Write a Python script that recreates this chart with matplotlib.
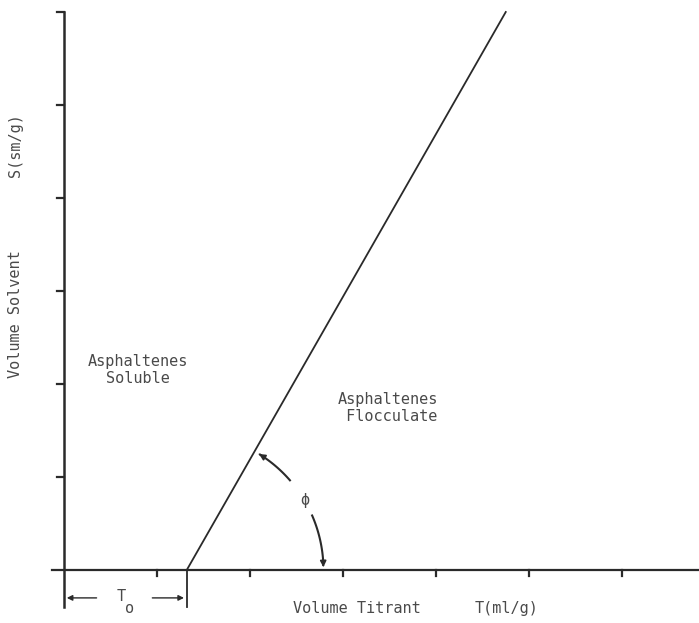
import numpy as np
import matplotlib
matplotlib.use("Agg")
import matplotlib.pyplot as plt

# ---- data ----
x_ticks = [1, 2, 3, 4, 5, 6]
y_ticks = [1, 2, 3, 4, 5, 6]
T0 = 1.32
line_x = [T0, 4.75]
line_y = [0.0, 6.0]

FONT = "DejaVu Sans Mono"
INK = "#2a2a2a"
TXT = "#4a4a4a"
FS = 11

W, H, DPI = 699, 623, 100
unit = 93.0
ox, oy = 64.0, 570.0
fig = plt.figure(figsize=(W / DPI, H / DPI), dpi=DPI)
ax = fig.add_axes([0, 0, 1, 1])
ax.set_xlim(-ox / unit, (W - ox) / unit)
ax.set_ylim(-(H - oy) / unit, oy / unit)
ax.axis("off")

# axes
ax.plot([-0.13, 7.0], [0, 0], color=INK, lw=1.6)
ax.plot([0, 0], [-0.40, 6.0], color=INK, lw=1.8)
for t in x_ticks:
    ax.plot([t, t], [0, -0.06], color=INK, lw=1.6)
for t in y_ticks:
    ax.plot([-0.07, 0], [t, t], color=INK, lw=1.6)

# main line
ax.plot(line_x, line_y, color=INK, lw=1.3)

# T0 dimension
ax.plot([T0, T0], [0, -0.40], color=INK, lw=1.3)
ax.annotate("", xy=(0.0, -0.30), xytext=(0.38, -0.30),
            arrowprops=dict(arrowstyle="-|>", color=INK, lw=1.0, mutation_scale=8))
ax.annotate("", xy=(T0, -0.30), xytext=(0.92, -0.30),
            arrowprops=dict(arrowstyle="-|>", color=INK, lw=1.0, mutation_scale=8))
ax.text(0.61, -0.29, "T", fontsize=FS, family=FONT, color=TXT, ha="center", va="center")
ax.text(0.70, -0.41, "o", fontsize=FS, family=FONT, color=TXT, ha="center", va="center")

# phi arc
ang_line = np.degrees(np.arctan2(line_y[1] - line_y[0], line_x[1] - line_x[0]))
r = 1.47
a1 = np.radians(np.linspace(ang_line - 1, 41, 30))
ax.plot(T0 + r * np.cos(a1[3:]), r * np.sin(a1[3:]), color=INK, lw=1.5)
ax.annotate("", xy=(T0 + r * np.cos(a1[0]), r * np.sin(a1[0])),
            xytext=(T0 + r * np.cos(a1[4]), r * np.sin(a1[4])),
            arrowprops=dict(arrowstyle="-|>", color=INK, lw=1.2, mutation_scale=9))
a2 = np.radians(np.linspace(23.5, 0, 30))
ax.plot(T0 + r * np.cos(a2[:-4]), r * np.sin(a2[:-4]), color=INK, lw=1.5)
ax.annotate("", xy=(T0 + r * np.cos(a2[-1]), r * np.sin(a2[-1])),
            xytext=(T0 + r * np.cos(a2[-5]), r * np.sin(a2[-5])),
            arrowprops=dict(arrowstyle="-|>", color=INK, lw=1.2, mutation_scale=9))
ax.text(T0 + r * np.cos(np.radians(30.5)), r * np.sin(np.radians(30.5)), "\u03d5",
        fontsize=FS, family=FONT, color=TXT, ha="center", va="center")

# labels
ax.text(-0.52, 4.57, "S(sm/g)", rotation=90, fontsize=FS, family=FONT, color=TXT,
        ha="center", va="center")
ax.text(-0.52, 2.75, "Volume Solvent", rotation=90, fontsize=FS, family=FONT, color=TXT,
        ha="center", va="center")
ax.text(0.79, 2.15, "Asphaltenes\nSoluble", fontsize=FS, family=FONT, color=TXT,
        ha="center", va="center", linespacing=1.15)
ax.text(3.48, 1.74, "Asphaltenes\n Flocculate", fontsize=FS, family=FONT, color=TXT,
        ha="center", va="center", linespacing=1.15)
ax.text(3.15, -0.41, "Volume Titrant", fontsize=FS, family=FONT, color=TXT,
        ha="center", va="center")
ax.text(4.76, -0.41, "T(ml/g)", fontsize=FS, family=FONT, color=TXT,
        ha="center", va="center")

fig.savefig("out.png", dpi=DPI)
